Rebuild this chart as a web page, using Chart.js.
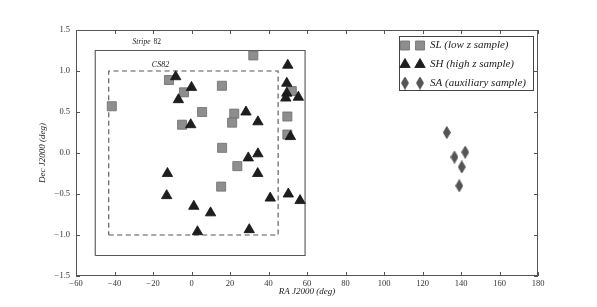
<!DOCTYPE html>
<html>
<head>
<meta charset="utf-8">
<script src="https://cdn.jsdelivr.net/npm/chart.js@4/dist/chart.umd.min.js"></script>
<style>
  html, body { margin: 0; padding: 0; background: #fff; }
  #wrap { width: 597px; height: 307px; }
</style>
</head>
<body>
<div id="wrap"><canvas id="sky" width="597" height="307"></canvas></div>
<script>
// SL (low z sample)
const slRa  = [-11.7, -3.9, -41.4, 15.8, 32.1, 5.5, 22.2, 21.1, -4.9, 52.1, 49.8, 49.8, 15.9, 23.8, 15.4];
const slDec = [0.89, 0.74, 0.57, 0.82, 1.19, 0.50, 0.48, 0.37, 0.345, 0.755, 0.445, 0.225, 0.063, -0.16, -0.41];

// SH (high z sample)
const shRa  = [-8.2, 0.0, -6.8, -0.4, 28.3, 34.5, 50.0, 49.5, 49.5, 49.0, 55.5, 51.4,
               29.5, 34.5, -12.5, 34.4, -12.9, 1.2, 9.9, 3.1, 30.0, 40.9, 50.3, 56.4];
const shDec = [0.93, 0.80, 0.65, 0.345, 0.50, 0.38, 1.07, 0.85, 0.73, 0.67, 0.68, 0.20,
               -0.06, -0.01, -0.25, -0.25, -0.52, -0.65, -0.73, -0.96, -0.935, -0.55, -0.50, -0.58];

// SA (auxiliary sample)
const saRa  = [132.6, 136.6, 142.2, 140.4, 139.1];
const saDec = [0.25, -0.05, 0.01, -0.17, -0.40];

// survey footprints
const stripeRa  = [-50, 59, 59, -50, -50];
const stripeDec = [-1.25, -1.25, 1.25, 1.25, -1.25];
const cs82Ra    = [-43, 45, 45, -43, -43];
const cs82Dec   = [-1, -1, 1, 1, -1];

const xTicks = [-60, -40, -20, 0, 20, 40, 60, 80, 100, 120, 140, 160, 180];
const yTicks = [-1.5, -1.0, -0.5, 0.0, 0.5, 1.0, 1.5];

const legendLabels = ['SL (low z sample)', 'SH (high z sample)', 'SA (auxiliary sample)'];

function pts(xs, ys) {
    return xs.map((x, i) => ({ x: x, y: ys[i] }));
}

// thin diamond like matplotlib 'd'
const diamond = document.createElement('canvas');
diamond.width = 8;
diamond.height = 13;
(function () {
    const c = diamond.getContext('2d');
    c.fillStyle = '#555555';
    c.strokeStyle = '#444444';
    c.lineWidth = 0.8;
    c.beginPath();
    c.moveTo(4, 0.5);
    c.lineTo(7.5, 6.5);
    c.lineTo(4, 12.5);
    c.lineTo(0.5, 6.5);
    c.closePath();
    c.fill();
    c.stroke();
})();

const minus = v => String(v).replace('-', '\u2212');
const serif = '"Liberation Serif", "DejaVu Serif", serif';

const decorations = {
    id: 'decorations',
    afterDraw(chart) {
        const ctx = chart.ctx;
        const a = chart.chartArea;
        const xs = chart.scales.x, ys = chart.scales.y;
        ctx.save();

        // frame
        ctx.strokeStyle = '#555';
        ctx.lineWidth = 1;
        ctx.strokeRect(a.left + 0.5, a.top + 0.5, a.right - a.left - 1, a.bottom - a.top - 1);

        // inward ticks on all sides
        ctx.beginPath();
        xTicks.forEach(v => {
            const px = Math.round(xs.getPixelForValue(v)) + 0.5;
            ctx.moveTo(px, a.bottom); ctx.lineTo(px, a.bottom - 4);
            ctx.moveTo(px, a.top); ctx.lineTo(px, a.top + 4);
        });
        yTicks.forEach(v => {
            const py = Math.round(ys.getPixelForValue(v)) + 0.5;
            ctx.moveTo(a.left, py); ctx.lineTo(a.left + 4, py);
            ctx.moveTo(a.right, py); ctx.lineTo(a.right - 4, py);
        });
        ctx.stroke();

        // footprint labels
        ctx.fillStyle = '#222';
        ctx.textBaseline = 'middle';
        ctx.font = 'italic 7.5px ' + serif;
        let lx = xs.getPixelForValue(-30.6), ly = ys.getPixelForValue(1.35);
        ctx.fillText('Stripe', lx, ly);
        const w = ctx.measureText('Stripe ').width;
        ctx.font = '7.5px ' + serif;
        ctx.fillText('82', lx + w + 1, ly);
        ctx.font = 'italic 8px ' + serif;
        ctx.fillText('CS82', xs.getPixelForValue(-20.6), ys.getPixelForValue(1.08));

        // axis titles
        ctx.font = 'italic 9px ' + serif;
        ctx.textAlign = 'center';
        ctx.fillText('RA J2000 (deg)', (a.left + a.right) / 2, 292);
        ctx.save();
        ctx.translate(43, (a.top + a.bottom) / 2);
        ctx.rotate(-Math.PI / 2);
        ctx.fillText('Dec J2000 (deg)', 0, 0);
        ctx.restore();

        // legend with two markers per entry
        ctx.fillStyle = '#fff';
        ctx.fillRect(399.5, 36.5, 134, 54);
        ctx.strokeStyle = '#444';
        ctx.strokeRect(399.5, 36.5, 134, 54);
        const rows = [45.5, 64.5, 83];
        const sets = [0, 1, 2].map(i => chart.data.datasets[i]);
        ctx.textAlign = 'left';
        ctx.font = 'italic 11px ' + serif;
        rows.forEach((ry, i) => {
            const ds = sets[i];
            [405, 420].forEach(mx => {
                ctx.fillStyle = ds.backgroundColor;
                ctx.strokeStyle = ds.borderColor;
                ctx.lineWidth = ds.borderWidth;
                Chart.helpers.drawPoint(ctx, {
                    pointStyle: ds.pointStyle, radius: ds.pointRadius,
                    rotation: 0, borderWidth: ds.borderWidth
                }, mx, ry);
            });
            ctx.fillStyle = '#222';
            ctx.fillText(legendLabels[i], 430, ry);
        });

        ctx.restore();
    }
};

new Chart(document.getElementById('sky'), {
    type: 'scatter',
    data: {
        datasets: [
            {
                label: legendLabels[0], data: pts(slRa, slDec), order: 3,
                pointStyle: 'rect', pointRadius: 6.4, pointHoverRadius: 6.4,
                backgroundColor: '#8e8e8e', borderColor: '#6c6c6c', borderWidth: 0.8
            },
            {
                label: legendLabels[1], data: pts(shRa, shDec), order: 2,
                pointStyle: 'triangle', pointRadius: 6, pointHoverRadius: 6,
                backgroundColor: '#1e1e1e', borderColor: '#111', borderWidth: 0.8
            },
            {
                label: legendLabels[2], data: pts(saRa, saDec), order: 1,
                pointStyle: diamond, pointRadius: 6, pointHoverRadius: 6,
                backgroundColor: '#555', borderColor: '#444', borderWidth: 0.8
            },
            {
                label: 'Stripe 82', data: pts(stripeRa, stripeDec), order: 5,
                showLine: true, pointRadius: 0, borderColor: '#555', borderWidth: 1.1, fill: false
            },
            {
                label: 'CS82', data: pts(cs82Ra, cs82Dec), order: 4,
                showLine: true, pointRadius: 0, borderColor: '#555', borderWidth: 1.1,
                borderDash: [5, 3.5], fill: false
            }
        ]
    },
    options: {
        responsive: false,
        animation: false,
        layout: { padding: { top: 30, right: 59, left: 0, bottom: 0 } },
        plugins: { legend: { display: false }, tooltip: { enabled: false } },
        scales: {
            x: {
                type: 'linear', min: -60, max: 180,
                afterFit: s => { s.height = 31; },
                afterBuildTicks: s => { s.ticks = xTicks.map(v => ({ value: v })); },
                grid: { display: false, drawTicks: false },
                border: { display: false },
                ticks: {
                    padding: 3, color: '#333', maxRotation: 0,
                    font: { family: serif, size: 8.5 },
                    callback: v => minus(v)
                }
            },
            y: {
                type: 'linear', min: -1.5, max: 1.5,
                afterFit: s => { s.width = 76; },
                afterBuildTicks: s => { s.ticks = yTicks.map(v => ({ value: v })); },
                grid: { display: false, drawTicks: false },
                border: { display: false },
                ticks: {
                    padding: 6, color: '#333',
                    font: { family: serif, size: 8.5 },
                    callback: v => minus(v.toFixed(1))
                }
            }
        }
    },
    plugins: [decorations]
});
</script>
</body>
</html>
